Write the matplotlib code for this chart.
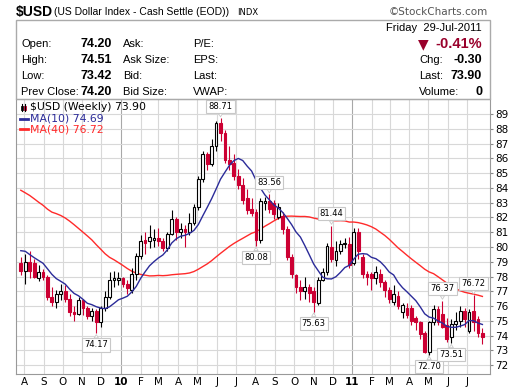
import numpy as np
import pandas as pd
import matplotlib
matplotlib.use("Agg")
import matplotlib.pyplot as plt
import matplotlib.dates as mdates
from matplotlib.patches import Rectangle

# weekly bars, week of 2009-07-27 .. week of 2011-07-25
start_week = "2009-07-27"
opens = [78.9, 78.4, 79.0, 78.9, 77.9, 78.3, 78.0, 76.6, 76.3, 76.8,
         77.0, 76.5, 75.6, 75.5, 76.4, 75.9, 75.3, 75.7, 74.9, 75.9,
         76.6, 77.8, 77.8, 77.9, 77.5, 77.1, 78.2, 79.4, 80.5, 80.4,
         80.5, 80.6, 80.4, 79.9, 80.9, 81.9, 81.0, 81.2, 81.0, 81.6,
         82.7, 84.6, 86.3, 85.6, 86.8, 88.4, 87.7, 85.9, 85.7, 84.8,
         84.2, 83.3, 82.6, 82.4, 80.5, 83.0, 83.1, 83.0, 82.0, 82.1,
         81.2, 79.3, 78.1, 77.3, 77.0, 77.3, 77.0, 76.2, 77.8, 78.3,
         80.0, 79.1, 79.7, 80.2, 80.2, 78.9, 81.0, 79.3, 78.2, 78.2,
         77.9, 78.2, 77.6, 77.1, 76.3, 76.7, 75.6, 75.9, 75.9, 75.2,
         74.9, 74.2, 72.9, 74.9, 75.8, 75.5, 74.7, 73.9, 74.8, 75.0,
         75.7, 74.3, 75.7, 75.1, 74.20]
highs = [79.3, 79.5, 79.7, 79.2, 78.8, 78.5, 78.1, 77.3, 77.1, 77.5,
         77.4, 76.8, 76.0, 76.6, 76.5, 76.0, 75.9, 75.8, 76.0, 77.0,
         78.3, 78.4, 78.3, 78.0, 77.8, 78.6, 79.6, 80.8, 81.0, 81.5,
         81.2, 81.3, 80.6, 81.0, 82.5, 82.0, 81.6, 81.5, 82.3, 82.9,
         84.8, 86.5, 86.4, 87.3, 88.5, 88.71, 87.9, 86.8, 86.3, 85.3,
         84.7, 83.9, 83.3, 82.6, 83.3, 83.4, 83.56, 83.2, 83.0, 82.4,
         81.4, 79.5, 78.2, 77.8, 78.0, 77.5, 77.3, 78.0, 78.6, 80.3,
         81.44, 80.4, 80.5, 80.6, 80.7, 81.3, 81.3, 79.5, 78.4, 78.3,
         78.7, 78.5, 77.8, 77.3, 77.4, 77.0, 76.2, 76.2, 76.1, 75.3,
         75.0, 74.3, 75.0, 76.1, 76.0, 76.37, 75.2, 75.1, 75.6, 76.0,
         75.9, 75.8, 76.72, 75.3, 74.51]
lows = [78.1, 77.5, 77.9, 77.9, 77.7, 77.8, 76.4, 76.0, 75.9, 76.4,
        76.3, 75.3, 75.0, 75.4, 75.4, 75.1, 75.0, 74.17, 74.6, 75.7,
        76.5, 77.3, 77.4, 77.3, 76.8, 76.9, 77.8, 79.2, 79.5, 79.9,
        80.0, 80.1, 79.7, 79.7, 80.8, 80.5, 80.6, 80.0, 80.8, 81.5,
        82.5, 84.4, 85.2, 85.5, 86.5, 87.2, 85.7, 85.2, 84.5, 83.9,
        82.9, 82.2, 82.1, 80.08, 80.3, 82.5, 82.3, 81.9, 81.9, 80.9,
        79.1, 77.9, 76.9, 76.4, 76.5, 76.3, 75.63, 76.1, 77.7, 78.1,
        79.0, 78.7, 79.5, 79.9, 78.6, 78.8, 79.2, 77.9, 77.4, 77.1,
        77.5, 77.3, 76.6, 76.2, 76.1, 75.8, 75.2, 75.2, 74.7, 74.4,
        73.8, 72.8, 72.70, 74.7, 74.7, 74.5, 73.6, 73.51, 74.4, 74.6,
        74.6, 74.2, 74.3, 73.9, 73.42]
closes = [78.4, 79.0, 78.4, 78.0, 78.3, 78.0, 76.6, 76.3, 76.8, 77.0,
          76.5, 75.6, 75.5, 76.4, 75.9, 75.3, 75.7, 74.9, 75.9, 76.6,
          77.8, 77.9, 77.9, 77.5, 77.2, 78.2, 79.4, 80.4, 80.3, 80.7,
          80.6, 80.4, 79.9, 80.9, 81.9, 81.0, 81.2, 81.0, 81.6, 82.7,
          84.6, 86.3, 85.6, 86.8, 88.4, 87.7, 85.9, 85.6, 84.8, 84.2,
          83.2, 82.5, 82.3, 80.5, 83.1, 83.1, 82.6, 82.2, 82.7, 81.2,
          79.3, 78.2, 77.3, 77.0, 77.3, 76.9, 76.3, 77.8, 78.3, 80.1,
          79.2, 79.7, 80.2, 80.3, 78.8, 81.0, 79.7, 78.2, 78.0, 77.9,
          78.3, 77.6, 77.1, 76.5, 76.8, 76.0, 76.1, 75.4, 75.0, 74.9,
          74.1, 72.9, 74.9, 75.8, 74.9, 74.6, 73.8, 74.8, 75.0, 75.7,
          75.1, 75.6, 74.9, 74.2, 73.90]
# closes of the 39 weeks before the chart, only used to seed the averages
prior_closes = [85.9, 85.6, 86.9, 87.5, 86.4, 87.1, 84.4, 80.9, 82.0, 83.2,
                84.1, 85.1, 86.5, 86.1, 85.5, 86.4, 87.9, 88.1, 89.0, 87.4,
                84.5, 85.5, 85.2, 85.6, 85.4, 84.4, 84.1, 82.3, 82.7, 80.3,
                79.4, 80.6, 80.1, 80.2, 79.9, 80.3, 80.1, 79.7, 78.8]

high_labels = [45, 56, 70, 95, 102]
low_labels = [17, 53, 66, 92, 97]

info_left = [("Open:", "74.20", "Ask:", "P/E:"),
             ("High:", "74.51", "Ask Size:", "EPS:"),
             ("Low:", "73.42", "Bid:", "Last:"),
             ("Prev Close:", "74.20", "Bid Size:", "VWAP:")]
info_right = [("Chg:", "-0.30"), ("Last:", "73.90"), ("Volume:", "0")]

W, H = 520, 391
fig = plt.figure(figsize=(W / 100, H / 100), dpi=100)
fig.patch.set_facecolor("white")


def fx(x):
    return x / W


def fy(y):
    return 1 - y / H


hdr = "Liberation Sans"
fig.text(fx(16), fy(12), "$USD", fontsize=10, fontweight="bold", family=hdr, va="center")
fig.text(fx(54), fy(12), "(US Dollar Index - Cash Settle (EOD))", fontsize=7.5, family=hdr, va="center")
fig.text(fx(237), fy(12.5), "INDX", fontsize=6, family="DejaVu Sans", va="center")
fig.text(fx(488), fy(12), "\u00a9StockCharts.com", fontsize=7.5, family="DejaVu Sans",
         color="#555555", ha="right", va="center")

fig.patches.append(Rectangle((fx(16), fy(99)), fx(474), 79 / H, transform=fig.transFigure,
                             fill=False, edgecolor="#aaaaaa", lw=1))

rows_y = [44, 60, 76, 92]
for (lab, val, lab2, lab3), yy in zip(info_left, rows_y):
    fig.text(fx(21), fy(yy), lab, fontsize=8, family=hdr, va="center")
    fig.text(fx(112), fy(yy), val, fontsize=9, family=hdr, fontweight="bold", ha="right", va="center")
    fig.text(fx(123), fy(yy), lab2, fontsize=8, family=hdr, va="center")
    fig.text(fx(193), fy(yy), lab3, fontsize=8, family=hdr, va="center")
fig.text(fx(482), fy(28), "Friday  29-Jul-2011", fontsize=8, family=hdr, ha="right", va="center")
fig.text(fx(482), fy(44), "-0.41%", fontsize=10.5, family=hdr, fontweight="bold",
         color="#99002b", ha="right", va="center")
fig.text(fx(418), fy(44), "\u25bc", fontsize=10, family="DejaVu Sans", color="#99002b", va="center")
for (lab, val), yy in zip(info_right, rows_y[1:]):
    fig.text(fx(419), fy(yy), lab, fontsize=8, family=hdr, va="center")
    fig.text(fx(482), fy(yy), val, fontsize=9, family=hdr, fontweight="bold", ha="right", va="center")

# price panel
ax = fig.add_axes([fx(16), fy(374), fx(474), (374 - 99) / H])
dates = pd.date_range(start_week, periods=len(closes), freq="7D")
xd = mdates.date2num(dates)
o, hi, lo, c = map(np.array, (opens, highs, lows, closes))

allc = pd.Series(prior_closes + closes)
ma10 = allc.rolling(10).mean().values[-len(closes):]
ma40 = allc.rolling(40).mean().values[-len(closes):]

up = c >= o
red = "#cc0033"
wick_col = np.where(up, "black", red)
ax.vlines(xd, lo, hi, colors=wick_col, lw=0.8, zorder=3)
body_lo = np.minimum(o, c)
body_h = np.maximum(np.abs(c - o), 0.06)
ax.bar(xd, body_h, bottom=body_lo, width=4.4, color=np.where(up, "white", red),
       edgecolor=wick_col, lw=0.8, zorder=4)

ax.plot(xd, ma40, color="#ff2a2a", lw=1, zorder=2)
ax.plot(xd, ma10, color="#2b2b99", lw=1, zorder=5)

for i in high_labels:
    ax.annotate(f"{hi[i]:.2f}", (xd[i], hi[i]), xytext=(0, 8.5), textcoords="offset points",
                ha="center", va="center", fontsize=6, zorder=7,
                bbox=dict(boxstyle="square,pad=0.25", fc="white", ec="#c8c8c8", lw=0.8),
                arrowprops=dict(arrowstyle="wedge,tail_width=0.5", fc="white", ec="#c8c8c8",
                                lw=0.6, shrinkA=0, shrinkB=1))
for i in low_labels:
    ax.annotate(f"{lo[i]:.2f}", (xd[i], lo[i]), xytext=(0, -8.5), textcoords="offset points",
                ha="center", va="center", fontsize=6, zorder=7,
                bbox=dict(boxstyle="square,pad=0.25", fc="white", ec="#c8c8c8", lw=0.8),
                arrowprops=dict(arrowstyle="wedge,tail_width=0.5", fc="white", ec="#c8c8c8",
                                lw=0.6, shrinkA=0, shrinkB=1))

jan10 = mdates.date2num(pd.Timestamp("2010-01-01"))
jan11 = mdates.date2num(pd.Timestamp("2011-01-01"))
ax.set_xlim(jan10 - 165.6, jan11 + 217)
ax.set_ylim(71.41, 90.01)

months = pd.date_range("2009-08-01", "2011-07-01", freq="MS")
ax.set_xticks(mdates.date2num(months))
ax.set_xticklabels([m.strftime("%y") if m.month == 1 else m.strftime("%b")[0] for m in months])
for lab, m in zip(ax.get_xticklabels(), months):
    if m.month == 1:
        lab.set_fontweight("bold")
        lab.set_fontsize(9)
ax.tick_params(axis="x", length=0, labelsize=7.5, pad=2)
ax.yaxis.tick_right()
ax.set_yticks(range(72, 90))
ax.tick_params(axis="y", length=2.5, labelsize=7.5, pad=1, color="#888888")

ax.grid(True, color="#d8d8d8", lw=0.8, zorder=0)
for g, m in zip(ax.get_xgridlines(), months):
    if m.month == 1:
        g.set_color("#a8a8a8")
ax.set_axisbelow(True)
for s in ax.spines.values():
    s.set_color("#999999")

# legend
lt = ax.transAxes


def ly(y):
    return (374 - y) / 275


ax.text(14 / 474, ly(107.5), "$USD (Weekly) 73.90", transform=lt,
        fontsize=7.8, va="center", zorder=8)
ax.plot([5.5 / 474, 5.5 / 474], [ly(104), ly(111)], transform=lt, color="black", lw=0.8)
ax.add_patch(Rectangle((4.5 / 474, ly(109.5)), 2 / 474, 4 / 275, transform=lt, fc="white",
                       ec="black", lw=0.6))
ax.plot([9 / 474, 9 / 474], [ly(104), ly(111)], transform=lt, color="black", lw=0.8)
ax.add_patch(Rectangle((8 / 474, ly(110)), 2 / 474, 4 / 275, transform=lt, fc=red, ec=red, lw=0.6))
ax.text(14 / 474, ly(118.5), "MA(10) 74.69", transform=lt, fontsize=7.8, va="center",
        color="#2b2b99", zorder=8)
ax.plot([4 / 474, 12 / 474], [ly(118.5), ly(118.5)], transform=lt, color="#2b2b99", lw=2)
ax.text(14 / 474, ly(129), "MA(40) 76.72", transform=lt, fontsize=7.8, va="center",
        color="#ff2a2a", zorder=8)
ax.plot([4 / 474, 12 / 474], [ly(129), ly(129)], transform=lt, color="#ff2a2a", lw=2)

fig.savefig("out.png", dpi=100)
